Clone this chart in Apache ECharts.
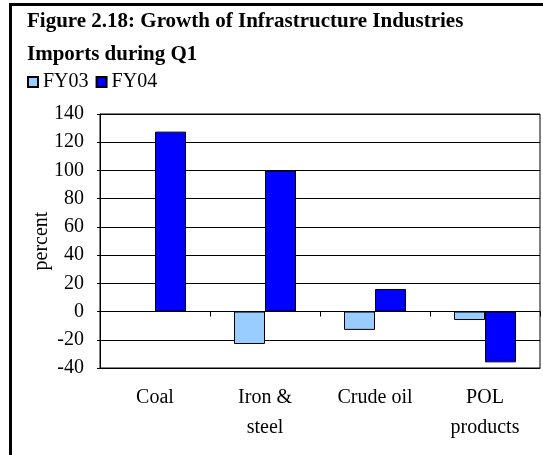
<!DOCTYPE html>
<html>
<head>
<meta charset="utf-8">
<script src="https://cdn.jsdelivr.net/npm/echarts@6/dist/echarts.min.js"></script>
<style>
  html, body { margin: 0; padding: 0; background: #fff; }
  #chart { width: 543px; height: 455px; }
</style>
</head>
<body>
<div id="chart"></div>
<script>
  // categories and values
  var categories = ['Coal', 'Iron &\nsteel', 'Crude oil', 'POL\nproducts'];
  var fy03 = [null, -23, -13, -6];
  var fy04 = [127.5, 100, 16, -36];
  var yTicks = { min: -40, max: 140, step: 20 };

  var serif = "'Liberation Serif', 'Times New Roman', serif";

  var chart = echarts.init(document.getElementById('chart'));

  var option = {
    animation: false,
    backgroundColor: '#fff',
    graphic: [
      {
        // outer frame of the figure (only left and top edges are in view)
        type: 'rect',
        shape: { x: 10.5, y: 4.5, width: 700, height: 700 },
        style: { fill: 'none', stroke: '#000', lineWidth: 3 },
        silent: true
      }
    ],
    title: {
      text: 'Figure 2.18: Growth of Infrastructure Industries\nImports during Q1',
      left: 27,
      top: 5,
      padding: 0,
      textStyle: {
        fontFamily: serif,
        fontWeight: 'bold',
        fontSize: 21,
        lineHeight: 33,
        color: '#000'
      }
    },
    legend: {
      left: 27,
      top: 72,
      padding: 0,
      itemWidth: 10,
      itemHeight: 10,
      itemGap: 7,
      icon: 'rect',
      textStyle: { fontFamily: serif, fontSize: 20, color: '#000' },
      data: ['FY03', 'FY04']
    },
    grid: {
      left: 100,
      right: 3,
      top: 114,
      bottom: 87,
      show: true,
      borderColor: '#000',
      borderWidth: 1,
      containLabel: false
    },
    xAxis: [
      {
        // bottom axis: carries the category labels
        type: 'category',
        data: categories,
        position: 'bottom',
        axisLine: { onZero: false, lineStyle: { color: '#000' } },
        axisTick: { show: false },
        axisLabel: {
          interval: 0,
          margin: 15,
          fontFamily: serif,
          fontSize: 20,
          lineHeight: 30,
          color: '#000'
        }
      },
      {
        // zero line with the category ticks
        type: 'category',
        data: categories,
        position: 'top',
        axisLine: { onZero: true, lineStyle: { color: '#000' } },
        axisTick: { show: true, inside: true, length: 5, interval: 0, lineStyle: { color: '#000' } },
        axisLabel: { show: false }
      }
    ],
    yAxis: {
      type: 'value',
      min: yTicks.min,
      max: yTicks.max,
      interval: yTicks.step,
      name: 'percent',
      nameLocation: 'middle',
      nameGap: 48,
      nameMoveOverlap: false,
      nameTextStyle: { fontFamily: serif, fontSize: 20, color: '#000' },
      axisLine: { show: true, lineStyle: { color: '#000' } },
      axisTick: { show: true, length: 3, lineStyle: { color: '#000' } },
      axisLabel: { margin: 16, fontFamily: serif, fontSize: 20, color: '#000' },
      splitLine: { show: true, lineStyle: { color: '#000', width: 1 } }
    },
    series: [
      {
        name: 'FY03',
        type: 'bar',
        data: fy03,
        barWidth: 31,
        barGap: '0%',
        itemStyle: { color: '#99CCFF', borderColor: '#000', borderWidth: 1 }
      },
      {
        name: 'FY04',
        type: 'bar',
        data: fy04,
        barWidth: 31,
        barGap: '0%',
        itemStyle: { color: '#0000FF', borderColor: '#000', borderWidth: 1 }
      }
    ]
  };

  chart.setOption(option);
</script>
</body>
</html>
